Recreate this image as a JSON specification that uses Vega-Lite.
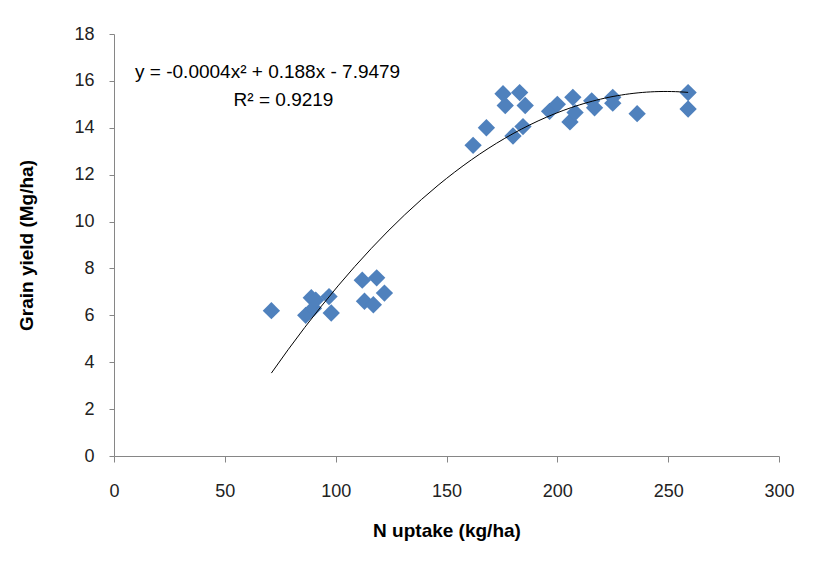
{
  "$schema": "https://vega.github.io/schema/vega-lite/v6.json",
  "width": 665,
  "height": 422,
  "autosize": "none",
  "padding": {"left": 114, "top": 34, "right": 34, "bottom": 121},
  "background": "white",
  "config": {"view": {"stroke": null}, "font": "Liberation Sans"},
  "data": {
    "values": [
      {"n": 71, "y": 6.2},
      {"n": 86.5, "y": 6.0},
      {"n": 89, "y": 6.75},
      {"n": 90, "y": 6.3},
      {"n": 91, "y": 6.65},
      {"n": 97, "y": 6.8},
      {"n": 98, "y": 6.1},
      {"n": 112, "y": 7.5},
      {"n": 113, "y": 6.6},
      {"n": 117, "y": 6.45},
      {"n": 118.5, "y": 7.6},
      {"n": 122, "y": 6.95},
      {"n": 162, "y": 13.25},
      {"n": 168, "y": 14.0},
      {"n": 175.5, "y": 15.45},
      {"n": 176.5, "y": 14.95},
      {"n": 180, "y": 13.65},
      {"n": 183, "y": 15.5},
      {"n": 184.5, "y": 14.05},
      {"n": 185.5, "y": 14.95},
      {"n": 196.5, "y": 14.7},
      {"n": 200, "y": 15.0},
      {"n": 205.7, "y": 14.25},
      {"n": 207, "y": 15.3},
      {"n": 208, "y": 14.65},
      {"n": 215.5, "y": 15.15},
      {"n": 216.8, "y": 14.85},
      {"n": 225, "y": 15.3},
      {"n": 225, "y": 15.05},
      {"n": 236, "y": 14.6},
      {"n": 259, "y": 15.5},
      {"n": 259, "y": 14.8}
    ]
  },
  "layer": [
    {
      "mark": {"type": "point", "shape": "diamond", "filled": true, "size": 300, "color": "#4F81BD", "opacity": 1},
      "encoding": {
        "x": {
          "field": "n", "type": "quantitative",
          "scale": {"domain": [0, 300], "nice": false, "zero": true},
          "axis": {
            "title": "N uptake (kg/ha)", "values": [0, 50, 100, 150, 200, 250, 300],
            "grid": false, "domainColor": "#868686", "tickColor": "#868686", "tickSize": 6,
            "labelFlush": false,
            "labelPadding": 20, "labelFontSize": 18, "labelColor": "#222222",
            "titleFontSize": 19, "titleFontWeight": "bold", "titleColor": "#000000", "titlePadding": 21
          }
        },
        "y": {
          "field": "y", "type": "quantitative",
          "scale": {"domain": [0, 18], "nice": false},
          "axis": {
            "title": "Grain yield (Mg/ha)", "values": [0, 2, 4, 6, 8, 10, 12, 14, 16, 18],
            "grid": false, "domainColor": "#868686", "tickColor": "#868686", "tickSize": 5,
            "labelFlush": false,
            "labelPadding": 15, "labelFontSize": 18, "labelColor": "#222222",
            "titleFontSize": 19, "titleFontWeight": "bold", "titleColor": "#000000", "titlePadding": 37
          }
        }
      }
    },
    {
      "transform": [{"regression": "y", "on": "n", "method": "poly", "order": 2}],
      "mark": {"type": "line", "color": "#000000", "strokeWidth": 1},
      "encoding": {
        "x": {"field": "n", "type": "quantitative"},
        "y": {"field": "y", "type": "quantitative"}
      }
    },
    {
      "data": {"values": [{}]},
      "mark": {"type": "text", "align": "left", "baseline": "middle", "fontSize": 19, "color": "#000000"},
      "encoding": {
        "x": {"datum": 9.5},
        "y": {"datum": 16.36},
        "text": {"value": "y = -0.0004x² + 0.188x - 7.9479"}
      }
    },
    {
      "data": {"values": [{}]},
      "mark": {"type": "text", "align": "right", "baseline": "middle", "fontSize": 19, "color": "#000000"},
      "encoding": {
        "x": {"datum": 99},
        "y": {"datum": 15.17},
        "text": {"value": "R² = 0.9219"}
      }
    }
  ]
}
